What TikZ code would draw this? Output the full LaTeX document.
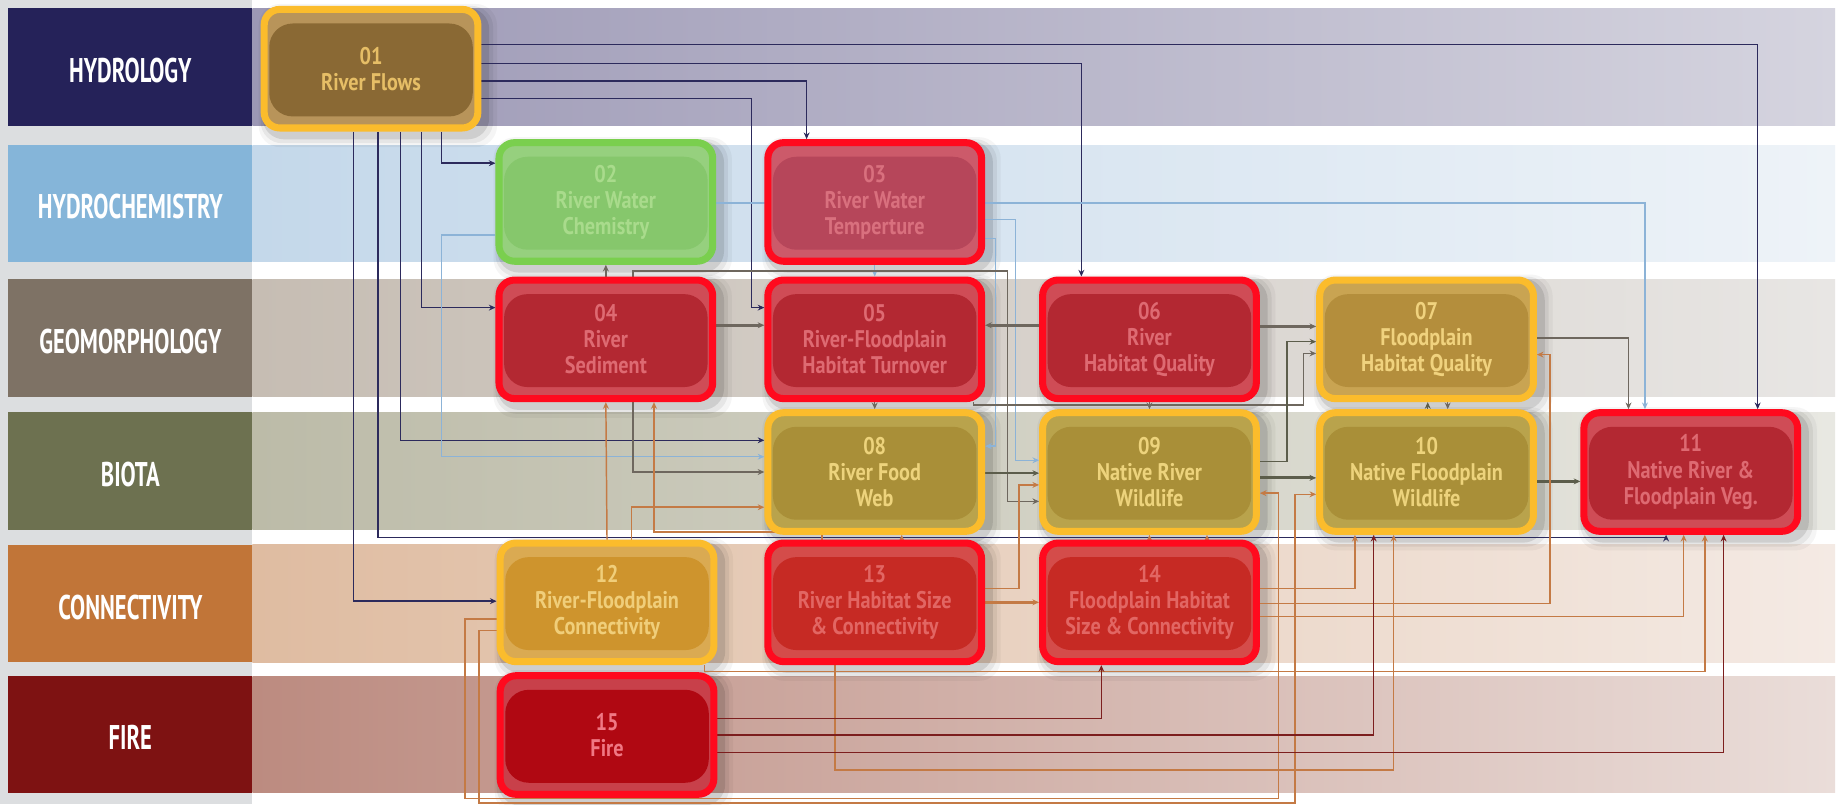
\documentclass[tikz,border=0pt]{standalone}
\usepackage{fontspec}
\setmainfont{PT Sans}
\newfontfamily\catfont{PT Sans}[FakeStretch=0.66]
\newfontfamily\boxfont{PT Sans}[FakeStretch=0.84]
\usetikzlibrary{arrows.meta}
\pgfdeclarelayer{bands}
\pgfdeclarelayer{shadowlayer}
\pgfdeclarelayer{links}
\pgfsetlayers{bands,shadowlayer,links,main}

% category colours (label column)
\definecolor{hydC}{HTML}{252259}
\definecolor{chemC}{HTML}{85B5D9}
\definecolor{geoC}{HTML}{7E7265}
\definecolor{bioC}{HTML}{6D7150}
\definecolor{conC}{HTML}{C17538}
\definecolor{fireC}{HTML}{7E1212}
\definecolor{colgray}{HTML}{DCDEE0}
% band tints
\definecolor{hydL}{HTML}{9C98B5}\definecolor{hydR}{HTML}{D5D4DF}
\definecolor{chemL}{HTML}{C4D8EA}\definecolor{chemR}{HTML}{EEF3F8}
\definecolor{geoL}{HTML}{C6BDB3}\definecolor{geoR}{HTML}{E8E6E4}
\definecolor{bioL}{HTML}{BCBBA8}\definecolor{bioR}{HTML}{E8E8E2}
\definecolor{conL}{HTML}{DFBCA1}\definecolor{conR}{HTML}{F4EAE4}
\definecolor{fireL}{HTML}{BC8B80}\definecolor{fireR}{HTML}{EADDD9}
% box borders
\definecolor{bdGold}{HTML}{FBBC2C}
\definecolor{bdRed}{HTML}{FF0A1E}
\definecolor{bdGreen}{HTML}{7ACF4E}
% box fills: outer ring, inner pill, text
\definecolor{aO}{HTML}{B8945A}\definecolor{aI}{HTML}{8A6934}\definecolor{aT}{HTML}{E6BE66}
\definecolor{gO}{HTML}{96D07E}\definecolor{gI}{HTML}{86C76C}\definecolor{gT}{HTML}{A9DB8C}
\definecolor{pO}{HTML}{CC5A6A}\definecolor{pI}{HTML}{B6465A}\definecolor{pT}{HTML}{D9707E}
\definecolor{rO}{HTML}{CF4C56}\definecolor{rI}{HTML}{B32832}\definecolor{rT}{HTML}{DE6A72}
\definecolor{yO}{HTML}{C9A452}\definecolor{yI}{HTML}{B48E3C}\definecolor{yT}{HTML}{F0D27E}
\definecolor{oO}{HTML}{B9A34C}\definecolor{oI}{HTML}{A98F38}\definecolor{oT}{HTML}{EDD37C}
\definecolor{kO}{HTML}{DAAA52}\definecolor{kI}{HTML}{CE942D}\definecolor{kT}{HTML}{F0CE7A}
\definecolor{sO}{HTML}{D44C4A}\definecolor{sI}{HTML}{C62A24}\definecolor{sT}{HTML}{E26663}
\definecolor{fO}{HTML}{C8404A}\definecolor{fI}{HTML}{B00812}\definecolor{fT}{HTML}{F07884}
% link colours
\definecolor{lkHyd}{HTML}{2C2A5C}
\definecolor{lkChem}{HTML}{8CB3D7}
\definecolor{lkGeo}{HTML}{6E675E}
\definecolor{lkBio}{HTML}{5C5D4B}
\definecolor{lkCon}{HTML}{C47A45}
\definecolor{lkFire}{HTML}{7C1E1E}

\begin{document}
\begin{tikzpicture}[x=0.6pt,y=-0.6pt,
  >={Stealth[length=3.4pt,width=3pt]},
  cat/.style={font=\catfont\bfseries\fontsize{17.5}{18}\selectfont, text=white, inner sep=0pt},
  box/.style n args={4}{draw=#1, fill=#2, text=#4, line width=3.6pt, rounded corners=8pt,
    minimum width=109.2pt, minimum height=60.6pt, inner sep=0pt, align=center,
    font=\boxfont\bfseries\fontsize{12.3}{13.3}\selectfont,
    path picture={\fill[#3, rounded corners=12pt]
      ([xshift=2.6pt,yshift=-7.2pt]path picture bounding box.north west) rectangle
      ([xshift=-2.6pt,yshift=5.9pt]path picture bounding box.south east);}},
  softshadow/.style={black, opacity=#1, rounded corners=11pt},
  link/.style={line width=0.75pt, ->},
  heavy/.style={line width=1.6pt},
  lhyd/.style={link, draw=lkHyd},
  lchem/.style={link, draw=lkChem},
  lgeo/.style={link, draw=lkGeo},
  lbio/.style={link, draw=lkBio},
  lcon/.style={link, draw=lkCon},
  lfire/.style={link, draw=lkFire}]

\useasboundingbox (0,0) rectangle (1568,685);

% ---- category bands ----
\begin{pgfonlayer}{bands}
\fill[white] (0,0) rectangle (1568,685);
\fill[colgray] (0,0) rectangle (215,685);
\shade[left color=hydL,right color=hydR]   (215,7)     rectangle (1563,107);
\shade[left color=chemL,right color=chemR] (215,123.5) rectangle (1563,223);
\shade[left color=geoL,right color=geoR]   (215,238)   rectangle (1563,338);
\shade[left color=bioL,right color=bioR]   (215,351)   rectangle (1563,451);
\shade[left color=conL,right color=conR]   (215,464)   rectangle (1563,564);
\shade[left color=fireL,right color=fireR] (215,576)   rectangle (1563,675);
\fill[hydC]  (7,7)     rectangle (215,107);
\fill[chemC] (7,123.5) rectangle (215,223);
\fill[geoC]  (7,238)   rectangle (215,338);
\fill[bioC]  (7,351)   rectangle (215,451);
\fill[conC]  (7,464)   rectangle (215,564);
\fill[fireC] (7,576)   rectangle (215,675);
\end{pgfonlayer}

\node[cat] (tHyd)  at (111,60)  {HYDROLOGY};
\node[cat] (tChem) at (111,176) {HYDROCHEMISTRY};
\node[cat] (tGeo)  at (111,291) {GEOMORPHOLOGY};
\node[cat] (tBio)  at (111,404) {BIOTA};
\node[cat] (tCon)  at (111,517) {CONNECTIVITY};
\node[cat] (tFire) at (111,628) {FIRE};

% ---- factor boxes ----
\node[box={bdGold}{aO}{aI}{aT}]   (n01) at (316,58.5) {01\\River Flows};
\node[box={bdGreen}{gO}{gI}{gT}]  (n02) at (516,172)  {02\\River Water\\Chemistry};
\node[box={bdRed}{pO}{pI}{pT}]    (n03) at (745,172)  {03\\River Water\\Temperture};
\node[box={bdRed}{rO}{rI}{rT}]    (n04) at (516,289)  {04\\River\\Sediment};
\node[box={bdRed}{rO}{rI}{rT}]    (n05) at (745,289)  {05\\River-Floodplain\\Habitat Turnover};
\node[box={bdRed}{rO}{rI}{rT}]    (n06) at (979,289)  {06\\River\\Habitat Quality};
\node[box={bdGold}{yO}{yI}{yT}]   (n07) at (1215,289) {07\\Floodplain\\Habitat Quality};
\node[box={bdGold}{oO}{oI}{oT}]   (n08) at (745,402)  {08\\River Food\\Web};
\node[box={bdGold}{oO}{oI}{oT}]   (n09) at (979,402)  {09\\Native River\\Wildlife};
\node[box={bdGold}{oO}{oI}{oT}]   (n10) at (1215,402) {10\\Native Floodplain\\Wildlife};
\node[box={bdRed}{rO}{rI}{rT}]    (n11) at (1440,402) {11\\Native River \&\\Floodplain Veg.};
\node[box={bdGold}{kO}{kI}{kT}]   (n12) at (517,513)  {12\\River-Floodplain\\Connectivity};
\node[box={bdRed}{sO}{sI}{sT}]    (n13) at (745,513)  {13\\River Habitat Size\\\& Connectivity};
\node[box={bdRed}{sO}{sI}{sT}]    (n14) at (979,513)  {14\\Floodplain Habitat\\Size \& Connectivity};
\node[box={bdRed}{fO}{fI}{fT}]    (n15) at (517,626)  {15\\Fire};

% ---- soft shadows under the boxes ----
\begin{pgfonlayer}{shadowlayer}
\foreach \n in {n01,n02,n03,n04,n05,n06,n07,n08,n09,n10,n11,n12,n13,n14,n15}{
  \fill[softshadow=0.10] ([xshift=1pt,yshift=-1pt]\n.north west) rectangle ([xshift=4pt,yshift=-4pt]\n.south east);
  \fill[softshadow=0.06] ([xshift=0pt,yshift=0pt]\n.north west) rectangle ([xshift=6pt,yshift=-6pt]\n.south east);
  \fill[softshadow=0.04] ([xshift=-1pt,yshift=1pt]\n.north west) rectangle ([xshift=8pt,yshift=-8pt]\n.south east);
}
\end{pgfonlayer}

% ---- influence links ----
\begin{pgfonlayer}{links}
% from River Flows
\draw[lhyd] (n01.east|-0,38) -| (1497,0|-n11.north);
\draw[lhyd] (n01.east|-0,54) -| (921,0|-n06.north);
\draw[lhyd] (n01.east|-0,69) -| (687,0|-n03.north);
\draw[lhyd] (n01.east|-0,84) -| (640,262) -- (n05.west|-0,262);
\draw[lhyd] (n01.south-|376,0) |- (n02.west|-0,139);
\draw[lhyd] (n01.south-|359,0) |- (n04.west|-0,262);
\draw[lhyd] (n01.south-|341,0) |- (n08.west|-0,375);
\draw[lhyd] (n01.south-|322,0) |- (1419,458) -- (1419,0|-n11.south);
\draw[lhyd] (n01.south-|301,0) |- (n12.west|-0,512);
% from hydrochemistry
\draw[lchem] (n02.east|-0,173) -| (1401,0|-n11.north);
\draw[lchem] (n02.west|-0,200) -| (376,389) -- (n08.west|-0,389);
\draw[lchem] (n03.east|-0,187) -| (865,392) -- (n09.west|-0,392);
\draw[lchem] (n03.east|-0,203) -| (848,380) -- (n08.east|-0,380);
\draw[lchem] (n03.south) -- (n05.north);
% from geomorphology
\draw[lgeo,heavy] (n04.east|-0,277) -- (n05.west|-0,277);
\draw[lgeo,heavy] (n06.west|-0,277) -- (n05.east|-0,277);
\draw[lgeo,heavy] (n06.east|-0,278) -- (n07.west|-0,278);
\draw[lgeo] (n04.north) -- (n02.south);
\draw[lgeo] (n04.north-|539,0) |- (858,231) |- (n09.west|-0,427);
\draw[lgeo] (n04.south-|539,0) |- (n08.west|-0,402);
\draw[lgeo] (n05.south) -- (n08.north);
\draw[lgeo] (n06.south) -- (n09.north);
\draw[lgeo] (n07.south-|1233,0) -- (n10.north-|1233,0);
\draw[lgeo] (n07.east|-0,288) -| (1387,0|-n11.north);
\draw[lgeo] (n05.south-|829,0) |- (1110,345) |- (n07.west|-0,301);
% from biota
\draw[lbio] (n08.east|-0,403) -- (n09.west|-0,403);
\draw[lbio,heavy] (n09.east|-0,407) -- (n10.west|-0,407);
\draw[lbio,heavy] (n10.east|-0,410) -- (n11.west|-0,410);
\draw[lbio] (n09.east|-0,393) -| (1096,291) -- (n07.west|-0,291);
\draw[lbio] (n10.north-|1216,0) -- (n07.south-|1216,0);
% from connectivity
\draw[lcon] (n12.north) -- (n04.south);
\draw[lcon] (n12.north-|538,0) |- (n08.west|-0,432);
\draw[lcon] (n13.north-|700,0) |- (557,453) -- (557,0|-n04.south);
\draw[lcon] (n13.north-|768,0) -- (n08.south-|768,0);
\draw[lcon,heavy] (n13.east|-0,513) -- (n14.west|-0,513);
\draw[lcon] (n13.east|-0,501) -| (868,413) -- (n09.west|-0,413);
\draw[lcon] (n13.south-|711,0) |- (1187,656) -- (1187,0|-n10.south);
\draw[lcon] (n12.west|-0,527) -| (396,680) -| (1089,420) -- (n09.east|-0,420);
\draw[lcon] (n12.west|-0,537) -| (408,684) -| (1103,421) -- (n10.west|-0,421);
\draw[lcon] (n14.east|-0,501) -| (1154,0|-n10.south);
\draw[lcon] (n14.east|-0,514) -| (1320,302) -- (n07.east|-0,302);
\draw[lcon] (n14.east|-0,525) -| (1434,0|-n11.south);
\draw[lcon] (n12.south-|600,0) |- (1452,572) -- (1452,0|-n11.south);
\draw[lcon] (n14.north) -- (n09.south);
\draw[lcon] (n14.north-|1028,0) -- (n09.south-|1028,0);
% from fire
\draw[lfire] (n15.east|-0,612) -| (938,0|-n14.south);
\draw[lfire] (n15.east|-0,626) -| (1170,0|-n10.south);
\draw[lfire] (n15.east|-0,641) -| (1468,0|-n11.south);
\end{pgfonlayer}
\end{tikzpicture}
\end{document}
